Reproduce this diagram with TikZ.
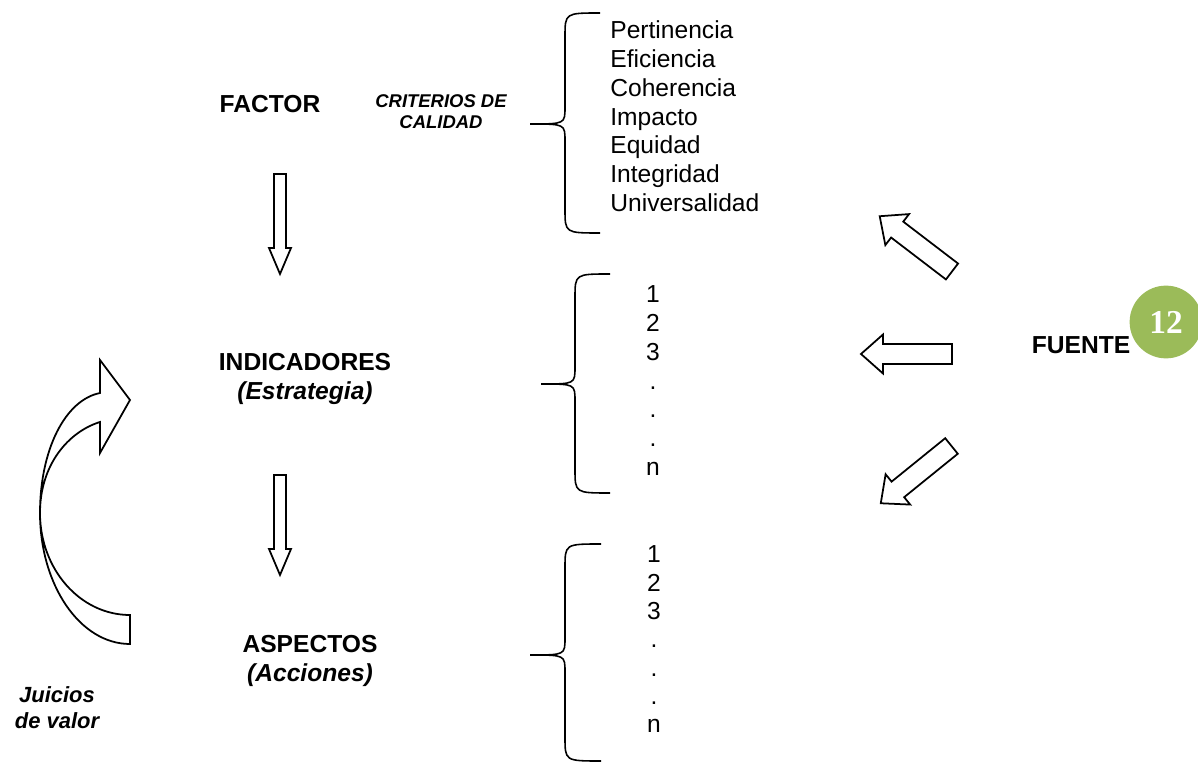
\documentclass[tikz,border=0pt]{standalone}
\usepackage{fontspec}
\setmainfont{Liberation Sans}
\newfontfamily\numfont{Liberation Serif}
\definecolor{verdepag}{HTML}{9BBB59}

% brace: tip x, tip y, line x, end x, top y, bottom y
\newcommand{\llave}[6]{%
  \draw[trazo] (#4,#5) .. controls (#3,#5) .. (#3,#5+24) -- (#3,#2-17)
    .. controls (#3,#2) .. (#1,#2) .. controls (#3,#2) .. (#3,#2+17)
    -- (#3,#6-24) .. controls (#3,#6) .. (#4,#6);}

\tikzset{
  trazo/.style={draw=black, line width=0.9pt},
  bloque/.style={draw=black, line width=1pt, line join=miter, fill=white},
  titulo/.style={inner sep=0pt, align=center, font=\fontsize{14}{17}\selectfont\bfseries},
  criterio/.style={inner sep=0pt, align=center, font=\fontsize{10.5}{11.9}\selectfont\bfseries\itshape},
  juicio/.style={inner sep=0pt, align=center, font=\fontsize{12.5}{14.8}\selectfont\bfseries\itshape},
  lista/.style={inner sep=0pt, font=\fontsize{14}{16}\selectfont},
  flechafuente/.pic={\draw[bloque] (0,-10) -- (69,-10) -- (69,-19.5) -- (91,0)
    -- (69,19.5) -- (69,10) -- (0,10) -- cycle;},
  flechabaja/.pic={\draw[bloque] (0,-6) -- (74,-6) -- (74,-11) -- (100,0)
    -- (74,11) -- (74,6) -- (0,6) -- cycle;},
}

\begin{document}
\begin{tikzpicture}[x=0.02cm, y=-0.02cm]
    \useasboundingbox (0,0) rectangle (1198,763);

    % Nodes {factor, indicadores, aspectos, etc}
    \node [titulo]   (factor)      at (270,104) {FACTOR};
    \node [criterio] (criterios)   at (441,112) {CRITERIOS DE\\CALIDAD};
    \node [titulo]   (indicadores) at (305,379) {INDICADORES\\\textit{(Estrategia)}};
    \node [titulo]   (aspectos)    at (310,661) {ASPECTOS\\\textit{(Acciones)}};
    \node [juicio]   (juicios)     at (57,708)  {Juicios\\de valor};
    \node [titulo]   (fuente)      at (1081,345) {FUENTE};
    \node [circle, fill=verdepag, minimum size=41.4pt, inner sep=0pt,
           text=white, font=\numfont\bfseries\fontsize{19}{19}\selectfont]
           (pagina) at (1166,322) {12};

    % Lists
    \foreach \t [count=\i] in {Pertinencia,Eficiencia,Coherencia,Impacto,Equidad,Integridad,Universalidad}
        \node [lista, anchor=base west] (cr\i) at (610,{39+28.67*(\i-1)}) {\t};
    \foreach \t [count=\i] in {1,2,3,.,.,.,n}
        \node [lista, anchor=base] (ind\i) at (653,{303+28.67*(\i-1)}) {\t};
    \foreach \t [count=\i] in {1,2,3,.,.,.,n}
        \node [lista, anchor=base] (asp\i) at (654,{563+28.33*(\i-1)}) {\t};

    % Braces
    \llave{530}{124}{565}{600}{13}{233}
    \llave{541}{384}{575}{610}{274}{493}
    \llave{530}{655}{565}{601}{544}{761}

    % Block arrows
    \pic [rotate=-90]   (baja1) at (280,174)   {flechabaja};
    \pic [rotate=-90]   (baja2) at (280,475)   {flechabaja};
    \pic [rotate=142.6] (f1)    at (952,271.5) {flechafuente};
    \pic [rotate=180]   (f2)    at (952,354)   {flechafuente};
    \pic [rotate=219]   (f3)    at (951.5,446) {flechafuente};

    % Juicios de valor arrow
    \draw [bloque] (130,644) .. controls (80,644) and (40,585) .. (40,513)
        .. controls (40,450) and (65,400) .. (100,393) -- (100,360) -- (130,400)
        -- (100,453) -- (100,422) .. controls (68,432) and (40,465) .. (40,513)
        .. controls (40,569) and (80,615) .. (130,615) -- cycle;

\end{tikzpicture}
\end{document}
